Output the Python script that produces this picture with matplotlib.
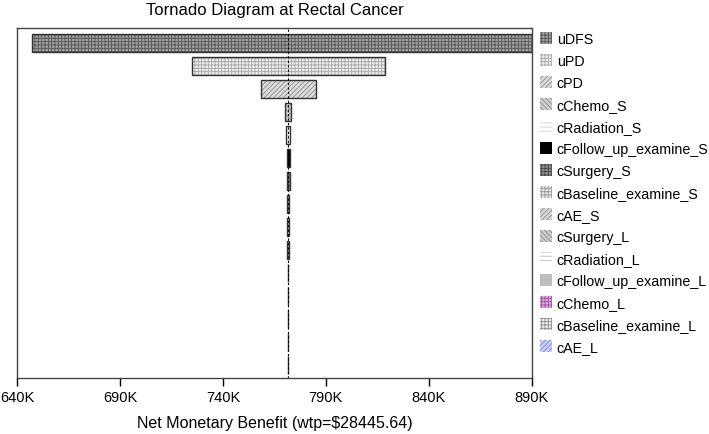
import matplotlib
matplotlib.use("Agg")
import matplotlib.pyplot as plt
from matplotlib.patches import Patch

plt.rcParams['font.family'] = ['Liberation Sans', 'DejaVu Sans']
plt.rcParams['hatch.linewidth'] = 0.6

# parameters, top to bottom
params = ['uDFS', 'uPD', 'cPD', 'cChemo_S', 'cRadiation_S', 'cFollow_up_examine_S',
          'cSurgery_S', 'cBaseline_examine_S', 'cAE_S', 'cSurgery_L', 'cRadiation_L',
          'cFollow_up_examine_L', 'cChemo_L', 'cBaseline_examine_L', 'cAE_L']
# net monetary benefit range (K$)
low = [647.3, 725.0, 758.5, 770.3, 770.8, 770.9, 770.9, 771.1, 771.2, 771.3, 771.4,
       771.45, 771.5, 771.52, 771.53]
high = [905.0, 818.5, 785.0, 773.2, 772.7, 772.6, 772.5, 772.2, 772.0, 771.9, 771.8,
        771.7, 771.6, 771.58, 771.57]
base = 771.55
wtp = 28445.64

# face colour, hatch, hatch colour
styles = [('#a0a0a0', '+++++', '#555555'),
          ('#ececec', '+++++', '#a8a8a8'),
          ('#dcdcdc', '///////', '#8c8c8c'),
          ('#cfcfcf', '\\\\\\\\\\\\\\', '#8c8c8c'),
          ('#ffffff', '----', '#d0d0d0'),
          ('#000000', '', '#000000'),
          ('#8c8c8c', '+++++', '#4a4a4a'),
          ('#e6e6e6', '+++++', '#9a9a9a'),
          ('#d8d8d8', '///////', '#8c8c8c'),
          ('#cccccc', '\\\\\\\\\\\\\\', '#8c8c8c'),
          ('#ffffff', '----', '#bdbdbd'),
          ('#bdbdbd', '', '#bdbdbd'),
          ('#dba8dc', '+++++', '#a050a8'),
          ('#eeeeee', '+++++', '#8c8c8c'),
          ('#cdd0f7', '///////', '#7a80e0')]

fig = plt.figure(figsize=(7.09, 4.35), dpi=100)
ax = fig.add_axes([0.024, 0.129, 0.726, 0.804])

y = list(range(len(params)))
widths = [h - l for l, h in zip(low, high)]
for i in y:
    fc, hatch, hc = styles[i]
    ax.barh(i, widths[i], left=low[i], height=0.78, color=fc, hatch=hatch,
            edgecolor=hc, linewidth=0)
    ax.barh(i, widths[i], left=low[i], height=0.78, fill=False,
            edgecolor='#333333', linewidth=1.0)

ax.axvline(base, color='black', linestyle=(0, (2, 2)), linewidth=0.8, zorder=5)

ax.set_xlim(640, 890)
ax.set_ylim(14.57, -0.65)
ticks = [640, 690, 740, 790, 840, 890]
ax.set_xticks(ticks)
ax.set_xticklabels([f'{t}K' for t in ticks], fontsize=10.5)
ax.set_yticks([])
ax.tick_params(axis='x', direction='out', length=6, width=1, pad=3)
for s in ax.spines.values():
    s.set_color('#444444')
    s.set_linewidth(1.0)

ax.set_title('Tornado Diagram at Rectal Cancer', fontsize=12, pad=10)
ax.set_xlabel(f'Net Monetary Benefit (wtp=${wtp})', fontsize=11.5, labelpad=8)

handles = [Patch(facecolor=s[0], hatch=s[1], edgecolor=s[2], linewidth=0) for s in styles]
fig.legend(handles, params, loc='upper left', bbox_to_anchor=(0.761, 0.925),
           frameon=False, fontsize=10.3, labelspacing=0.56, handlelength=0.9,
           handleheight=0.9, handletextpad=0.3, borderaxespad=0, borderpad=0)

fig.savefig('out.png', dpi=100)
